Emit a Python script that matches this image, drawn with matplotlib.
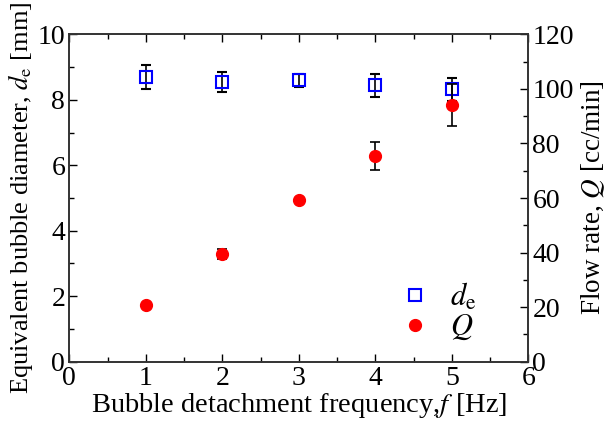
import matplotlib.pyplot as plt
from matplotlib.lines import Line2D
from matplotlib.ticker import MultipleLocator

plt.rcParams["font.family"] = "Liberation Serif"
plt.rcParams["mathtext.fontset"] = "stix"
plt.rcParams["font.size"] = 20

freq = [1, 2, 3, 4, 5]
de = [8.70, 8.55, 8.59, 8.45, 8.32]
de_err = [0.36, 0.31, 0.19, 0.35, 0.35]
flow = [20.8, 39.4, 59.3, 75.4, 94.1]
flow_err = [0.8, 1.8, 0.5, 5.1, 7.6]

fig = plt.figure(figsize=(6.06, 4.24), dpi=100)
ax = fig.add_axes([0.1144, 0.1469, 0.7574, 0.7722])
ax2 = ax.twinx()

ax.errorbar(freq, de, yerr=de_err, fmt="s", mfc="none", mec="blue", mew=1.5,
            ms=8, ecolor="black", elinewidth=1.2, capsize=3.5, capthick=1.2, zorder=3)
ax2.errorbar(freq, flow, yerr=flow_err, fmt="o", mfc="red", mec="red",
             ms=8.5, ecolor="black", elinewidth=1.2, capsize=3.5, capthick=1.2, zorder=3)

ax.set_xlim(0, 6)
ax.set_ylim(0, 10)
ax2.set_ylim(0, 120)
ax.xaxis.set_major_locator(MultipleLocator(1))
ax.xaxis.set_minor_locator(MultipleLocator(0.5))
ax.yaxis.set_major_locator(MultipleLocator(2))
ax.yaxis.set_minor_locator(MultipleLocator(1))
ax2.yaxis.set_major_locator(MultipleLocator(20))
ax2.yaxis.set_minor_locator(MultipleLocator(10))

ax.tick_params(which="both", direction="in", top=True, labelsize=20, pad=3)
ax.tick_params(which="major", length=6, width=1)
ax.tick_params(which="minor", length=3.5, width=1)
ax2.tick_params(which="both", direction="in", labelsize=20, pad=3)
ax2.tick_params(which="major", length=6, width=1)
ax2.tick_params(which="minor", length=3.5, width=1)
for a in (ax, ax2):
    for s in a.spines.values():
        s.set_linewidth(1.2)
        s.set_color("#333333")

ax.set_xlabel("Bubble detachment frequency,$f$ [Hz]", fontsize=20.5, labelpad=0)
ax.set_ylabel(r"Equivalent bubble diameter, $d_\mathrm{e}$ [mm]", fontsize=19, labelpad=2)
ax2.set_ylabel("Flow rate, $Q$ [cc/min]", fontsize=19.5, labelpad=4)

handles = [
    Line2D([], [], ls="none", marker="s", mfc="none", mec="blue", mew=1.5, ms=8),
    Line2D([], [], ls="none", marker="o", mfc="red", mec="red", ms=8.5),
]
ax2.legend(handles, [r"$d_\mathrm{e}$", "$Q$"], loc="lower right",
           bbox_to_anchor=(0.946, -0.025), frameon=False, fontsize=22,
           handlelength=1.0, handletextpad=0.65, labelspacing=0.0)

fig.savefig("out.png", dpi=100)
